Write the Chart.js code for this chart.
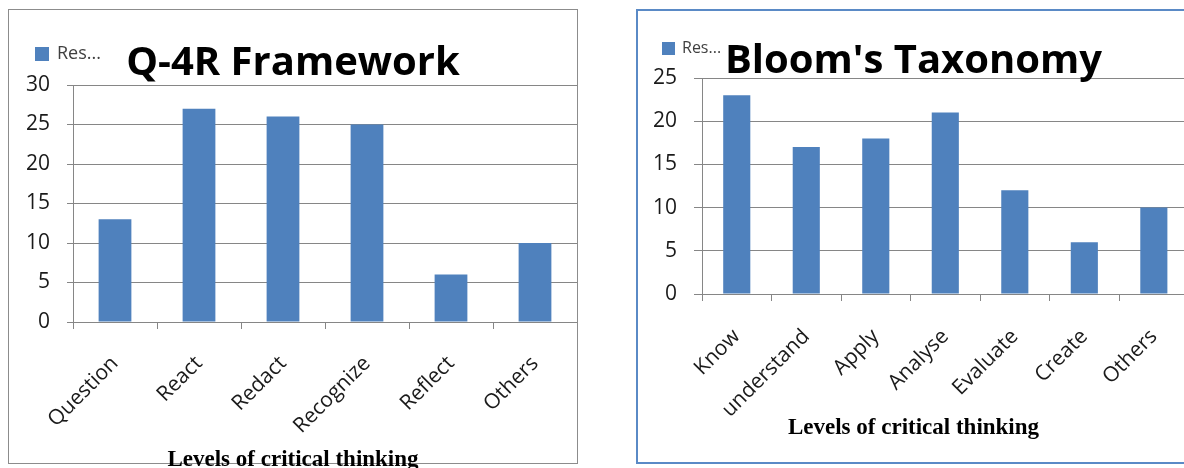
<!DOCTYPE html>
<html>
<head>
<meta charset="utf-8">
<script src="https://cdn.jsdelivr.net/npm/chart.js@4.4.1/dist/chart.umd.min.js"></script>
<style>
  html, body { margin: 0; padding: 0; background: #fff; }
  body { width: 1184px; height: 468px; overflow: hidden; position: relative; }
  .frame { position: absolute; box-sizing: border-box; }
  #frameQ { left: 8px; top: 9px; width: 570px; height: 455px; border: 1px solid #8c8c8c; }
  #frameB { left: 636px; top: 9px; width: 556px; height: 455px; border: 2px solid #5a8ac6; }
  .box { position: absolute; }
  #boxQ { left: 9px; top: 10px; width: 568px; height: 463px; }
  #boxB { left: 637px; top: 10px; width: 553px; height: 452px; }
</style>
</head>
<body>
<div class="frame" id="frameQ"></div>
<div class="frame" id="frameB"></div>
<div class="box" id="boxQ"><canvas id="q4r"></canvas></div>
<div class="box" id="boxB"><canvas id="bloom"></canvas></div>
<script>
// Q-4R framework chart
const q4rLevels = ["Question", "React", "Redact", "Recognize", "Reflect", "Others"];
const q4rCounts = [13, 27, 26, 25, 6, 10];
const q4rTicks = [0, 5, 10, 15, 20, 25, 30];

// Bloom's taxonomy chart
const bloomLevels = ["Know", "understand", "Apply", "Analyse", "Evaluate", "Create", "Others"];
const bloomCounts = [23, 17, 18, 21, 12, 6, 10];
const bloomTicks = [0, 5, 10, 15, 20, 25];

const seriesName = "Res...";
const xTitle = "Levels of critical thinking";

const barBlue = "#4f81bd";
const gridGray = "#868686";
const sans = "'Open Sans', 'DejaVu Sans', sans-serif";

// little truncated legend sitting left of the title, like the excel export
const resLegend = {
  id: "resLegend",
  afterDraw(chart, args, opts) {
    const ctx = chart.ctx;
    ctx.save();
    ctx.fillStyle = barBlue;
    ctx.fillRect(opts.x, opts.y, opts.size, opts.size);
    ctx.fillStyle = "#404040";
    ctx.font = opts.fontSize + "px " + sans;
    ctx.textBaseline = "middle";
    ctx.fillText(chart.data.datasets[0].label, opts.x + opts.size + opts.gap, opts.y + opts.size / 2);
    ctx.restore();
  },
};

function makeChart(id, title, labels, values, ticks, o) {
  return new Chart(document.getElementById(id), {
    type: "bar",
    data: {
      labels: labels,
      datasets: [
        {
          label: seriesName,
          data: values,
          backgroundColor: barBlue,
          borderWidth: 0,
          categoryPercentage: 1,
          barPercentage: 0.39,
        },
      ],
    },
    plugins: [resLegend],
    options: {
      responsive: true,
      maintainAspectRatio: false,
      animation: false,
      layout: { padding: { left: 0, right: 0, top: 0, bottom: o.padBottom } },
      plugins: {
        legend: { display: false },
        tooltip: { enabled: false },
        title: {
          display: true,
          text: title,
          color: "#000",
          font: { family: sans, size: 40, weight: "bold", lineHeight: 0.9 },
          padding: { top: o.titleTop, bottom: o.titleBottom },
        },
        subtitle: {
          display: true,
          position: "bottom",
          text: xTitle,
          color: "#000",
          font: { family: "'Liberation Serif', 'Times New Roman', serif", size: 23, weight: "bold", lineHeight: 1.0 },
          padding: { top: 0, bottom: 0 },
        },
        resLegend: o.legend,
      },
      scales: {
        x: {
          grid: { display: true, drawOnChartArea: false, drawTicks: true, tickLength: 7, color: gridGray },
          border: { display: true, color: gridGray },
          ticks: {
            color: "#1a1a1a",
            font: { family: sans, size: 21, lineHeight: 0.55 },
            minRotation: 45,
            maxRotation: 45,
            autoSkip: false,
            padding: o.xPad,
          },
          afterFit(scale) {
            scale.height = o.xHeight;
          },
        },
        y: {
          min: ticks[0],
          max: ticks[ticks.length - 1],
          grid: { color: gridGray, tickLength: o.yTick },
          border: { display: true, color: gridGray },
          ticks: {
            stepSize: ticks[1] - ticks[0],
            color: "#1a1a1a",
            font: { family: sans, size: 21 },
            padding: 17,
          },
          afterFit(scale) {
            scale.width = o.yWidth;
          },
        },
      },
    },
  });
}

makeChart("q4r", "Q-4R Framework", q4rLevels, q4rCounts, q4rTicks, {
  padBottom: 1,
  titleTop: 36,
  titleBottom: 3,
  xPad: 27,
  xHeight: 127,
  yWidth: 64,
  yTick: 6,
  legend: { x: 26, y: 37, size: 14, gap: 8, fontSize: 18 },
});

makeChart("bloom", "Bloom's Taxonomy", bloomLevels, bloomCounts, bloomTicks, {
  padBottom: 22,
  titleTop: 34,
  titleBottom: -2,
  xPad: 28,
  xHeight: 123,
  yWidth: 65,
  yTick: 8,
  legend: { x: 25, y: 32, size: 13, gap: 7, fontSize: 16 },
});
</script>
</body>
</html>
